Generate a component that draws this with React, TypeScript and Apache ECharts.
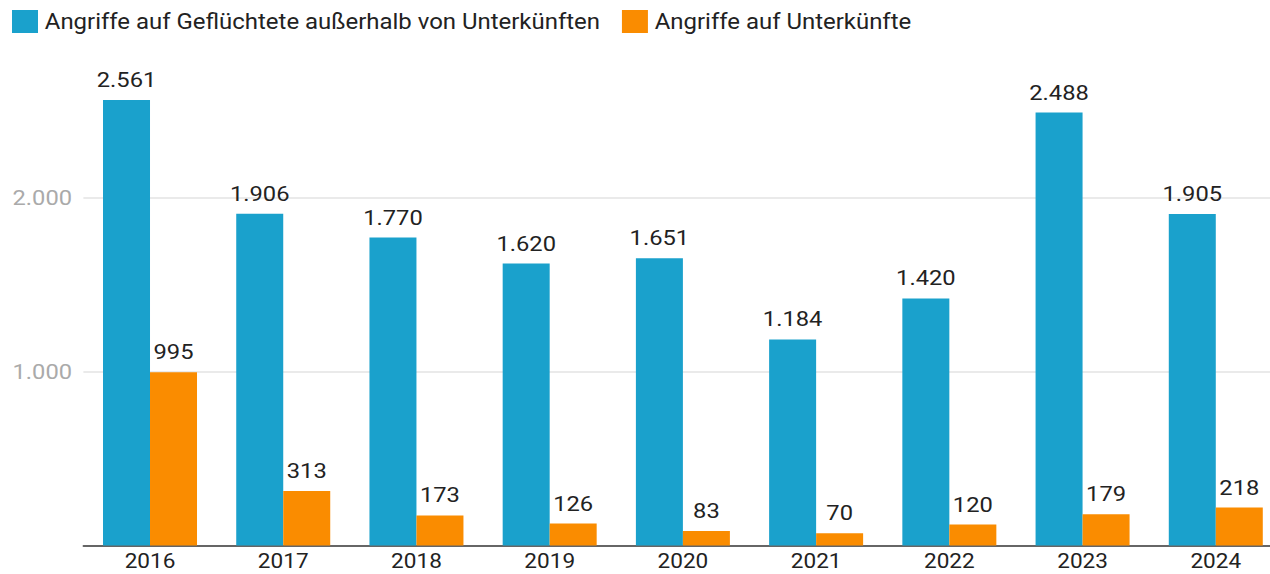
import React, { useEffect, useRef } from "react";
import * as echarts from "echarts";

const categories = ["2016", "2017", "2018", "2019", "2020", "2021", "2022", "2023", "2024"];
const outsideValues = [2561, 1906, 1770, 1620, 1651, 1184, 1420, 2488, 1905];
const shelterValues = [995, 313, 173, 126, 83, 70, 120, 179, 218];
const seriesNames = ["Angriffe auf Geflüchtete außerhalb von Unterkünften", "Angriffe auf Unterkünfte"];
const yTicks = [0, 1000, 2000, 3000];

const fmt = (v: number) => v.toLocaleString("de-DE");

// The reference picture is stretched horizontally; reproduce with a CSS scaleX.
const SX = 1.13;
const W = 1300 / SX;
const X = (px: number) => px / SX;

export default function App() {
  const ref = useRef<HTMLDivElement>(null);
  useEffect(() => {
    if (!ref.current) return;
    const chart = echarts.init(ref.current, null, { renderer: "svg" });
    const font = "Roboto";
    const labelCfg = {
      show: true,
      position: "top",
      distance: 10,
      color: "#222",
      fontSize: 21,
      fontFamily: font,
      formatter: (p: any) => fmt(p.value),
    };
    chart.setOption({
      animation: false,
      textStyle: { fontFamily: font },
      legend: {
        left: X(12),
        top: 10,
        padding: 0,
        itemWidth: X(26),
        itemHeight: 23,
        itemGap: X(22),
        icon: "rect",
        textStyle: { fontSize: 21.2, color: "#222", fontFamily: font, padding: [0, 0, 0, 1] },
        data: seriesNames,
      },
      grid: { left: X(83.4), width: X(1199), top: 23.5, height: 522 },
      xAxis: {
        type: "category",
        data: categories,
        axisLine: { show: true, lineStyle: { color: "#333", width: 1.5 } },
        axisTick: { show: false },
        axisLabel: { color: "#222", fontSize: 20, fontFamily: font, margin: 5 },
      },
      yAxis: {
        type: "value",
        min: yTicks[0],
        max: yTicks[yTicks.length - 1],
        interval: yTicks[1] - yTicks[0],
        axisLine: { show: false },
        axisTick: { show: false },
        axisLabel: {
          color: "#aaa",
          fontSize: 21,
          fontFamily: font,
          margin: 10,
          showMaxLabel: false,
          showMinLabel: false,
          formatter: (v: number) => fmt(v),
        },
        splitLine: { show: true, showMaxLine: false, showMinLine: false, lineStyle: { color: "#e3e3e3", width: 1.5 } },
      },
      series: [
        {
          name: seriesNames[0],
          type: "bar",
          data: outsideValues,
          barWidth: X(47),
          barGap: "0%",
          itemStyle: { color: "#1aa1cc" },
          label: labelCfg,
        },
        {
          name: seriesNames[1],
          type: "bar",
          data: shelterValues,
          barWidth: X(47),
          barGap: "0%",
          itemStyle: { color: "#fa8c00" },
          label: labelCfg,
        },
      ],
    });
    return () => chart.dispose();
  }, []);
  return (
    <div style={{ position: "fixed", left: 0, top: 0, width: 1270, height: 574, overflow: "hidden", background: "#fff" }}>
      <div
        ref={ref}
        style={{ width: W, height: 574, transform: `scaleX(${SX})`, transformOrigin: "0 0" }}
      />
    </div>
  );
}
